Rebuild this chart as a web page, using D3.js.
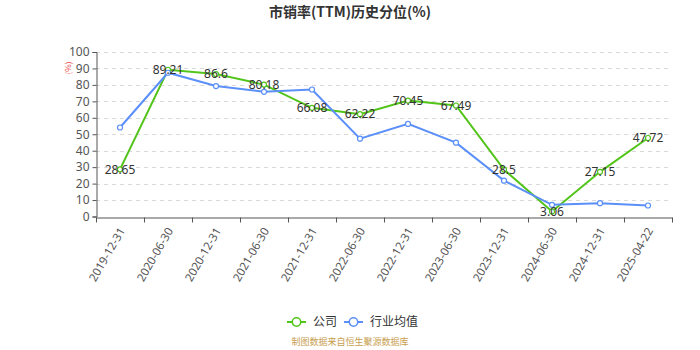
<!DOCTYPE html>
<html>
<head>
<meta charset="utf-8">
<script src="https://cdn.jsdelivr.net/npm/d3@7"></script>
<style>
  html, body { margin: 0; padding: 0; background: #fff; }
  svg { display: block; font-family: "Noto Sans CJK SC", "Noto Sans", sans-serif; }
</style>
</head>
<body>
<svg id="chart" width="700" height="350"></svg>
<script>
const categories = ["2019-12-31", "2020-06-30", "2020-12-31", "2021-06-30", "2021-12-31", "2022-06-30",
                    "2022-12-31", "2023-06-30", "2023-12-31", "2024-06-30", "2024-12-31", "2025-04-22"];
const companyValues = [28.65, 89.21, 86.6, 80.18, 66.08, 62.22, 70.45, 67.49, 28.5, 3.06, 27.15, 47.72];
const industryValues = [54.1, 87.4, 79.3, 75.8, 77.2, 47.3, 56.3, 44.9, 21.8, 7.1, 8.1, 6.7];
const yTicks = [0, 10, 20, 30, 40, 50, 60, 70, 80, 90, 100];

const svg = d3.select("#chart");
const margin = { left: 96, right: 28, top: 52, bottom: 134 };
const W = 700, H = 350;
const x = d3.scaleBand().domain(categories).range([margin.left, W - margin.right]);
const y = d3.scaleLinear().domain([0, 100]).range([H - margin.bottom + 0.5, margin.top]);
const cx = d => x(d) + x.bandwidth() / 2;

// title
svg.append("text")
  .attr("x", 350).attr("y", 17)
  .attr("text-anchor", "middle")
  .attr("font-size", 14).attr("font-weight", "bold").attr("fill", "#333")
  .text("市销率(TTM)历史分位(%)");

// unit label
svg.append("text")
  .attr("transform", `translate(71,68) rotate(-90)`)
  .attr("text-anchor", "middle")
  .attr("font-size", 8).attr("fill", "#e84545")
  .text("(%)");

// grid lines
svg.append("g").selectAll("line")
  .data(yTicks.filter(t => t > 0))
  .join("line")
  .attr("x1", margin.left).attr("x2", W - margin.right)
  .attr("y1", d => Math.round(y(d)) + 0.5).attr("y2", d => Math.round(y(d)) + 0.5)
  .attr("stroke", "#d9d9d9").attr("stroke-dasharray", "4,4");

// y axis
const yAxis = svg.append("g")
  .attr("transform", `translate(${margin.left + 0.5},0)`)
  .call(d3.axisLeft(y).tickValues(yTicks).tickSize(4).tickPadding(3));
yAxis.select(".domain").attr("stroke", "#555");
yAxis.selectAll(".tick line").attr("stroke", "#555");
yAxis.selectAll(".tick text").attr("font-size", 12).attr("fill", "#555")
  .attr("font-family", "'Noto Sans', sans-serif");

// x axis
const xAxis = svg.append("g")
  .attr("transform", `translate(0,${Math.round(y(0)) + 0.5})`)
  .call(d3.axisBottom(x).tickSize(0).tickFormat(""));
xAxis.select(".domain").attr("stroke", "#555");
const boundaries = categories.map(c => x(c)).concat([x(categories[categories.length - 1]) + x.bandwidth()]);
xAxis.selectAll(".bound").data(boundaries).join("line")
  .attr("class", "bound")
  .attr("x1", d => Math.round(d) + 0.5).attr("x2", d => Math.round(d) + 0.5)
  .attr("y1", 0).attr("y2", 5).attr("stroke", "#555");
xAxis.selectAll(".xl").data(categories).join("text")
  .attr("class", "xl")
  .attr("transform", d => `translate(${cx(d) + 2},${11}) rotate(-60)`)
  .attr("text-anchor", "end")
  .attr("dy", "0.35em")
  .attr("font-size", 11.5).attr("fill", "#555")
  .attr("font-family", "'Noto Sans', sans-serif")
  .text(d => d);

const series = [
  { name: "公司", values: companyValues, color: "#52c41a" },
  { name: "行业均值", values: industryValues, color: "#5b8ff9" }
];

const line = d3.line().x((d, i) => cx(categories[i])).y(d => y(d));

series.forEach(s => {
  svg.append("path")
    .datum(s.values)
    .attr("fill", "none")
    .attr("stroke", s.color)
    .attr("stroke-width", 2)
    .attr("d", line);
});
series.forEach(s => {
  svg.append("g").selectAll("circle")
    .data(s.values)
    .join("circle")
    .attr("cx", (d, i) => cx(categories[i]))
    .attr("cy", d => y(d))
    .attr("r", 2.5)
    .attr("fill", "#fff")
    .attr("stroke", s.color)
    .attr("stroke-width", 1.2);
});

// value labels for the company series
svg.append("g").selectAll("text")
  .data(companyValues)
  .join("text")
  .attr("x", (d, i) => cx(categories[i]))
  .attr("y", d => y(d))
  .attr("dy", "0.35em")
  .attr("text-anchor", "middle")
  .attr("font-size", 12).attr("fill", "#333")
  .attr("font-family", "'Noto Sans', sans-serif")
  .text(d => d);

// legend
const legend = svg.append("g").attr("transform", "translate(0,322)");
const legendItems = [
  { name: "公司", color: "#52c41a", x: 287 },
  { name: "行业均值", color: "#5b8ff9", x: 344 }
];
legendItems.forEach(it => {
  const g = legend.append("g").attr("transform", `translate(${it.x},0)`);
  g.append("line").attr("x1", 0).attr("x2", 19).attr("y1", 0).attr("y2", 0)
    .attr("stroke", it.color).attr("stroke-width", 2);
  g.append("circle").attr("cx", 9.5).attr("cy", 0).attr("r", 4.2)
    .attr("fill", "#fff").attr("stroke", it.color).attr("stroke-width", 1.5);
  g.append("text").attr("x", 26).attr("y", 0).attr("dy", "0.35em")
    .attr("font-size", 12).attr("fill", "#333").text(it.name);
});

// source note
svg.append("text")
  .attr("x", 350).attr("y", 345)
  .attr("text-anchor", "middle")
  .attr("font-size", 9).attr("fill", "#c8a050")
  .text("制图数据来自恒生聚源数据库");
</script>
</body>
</html>
